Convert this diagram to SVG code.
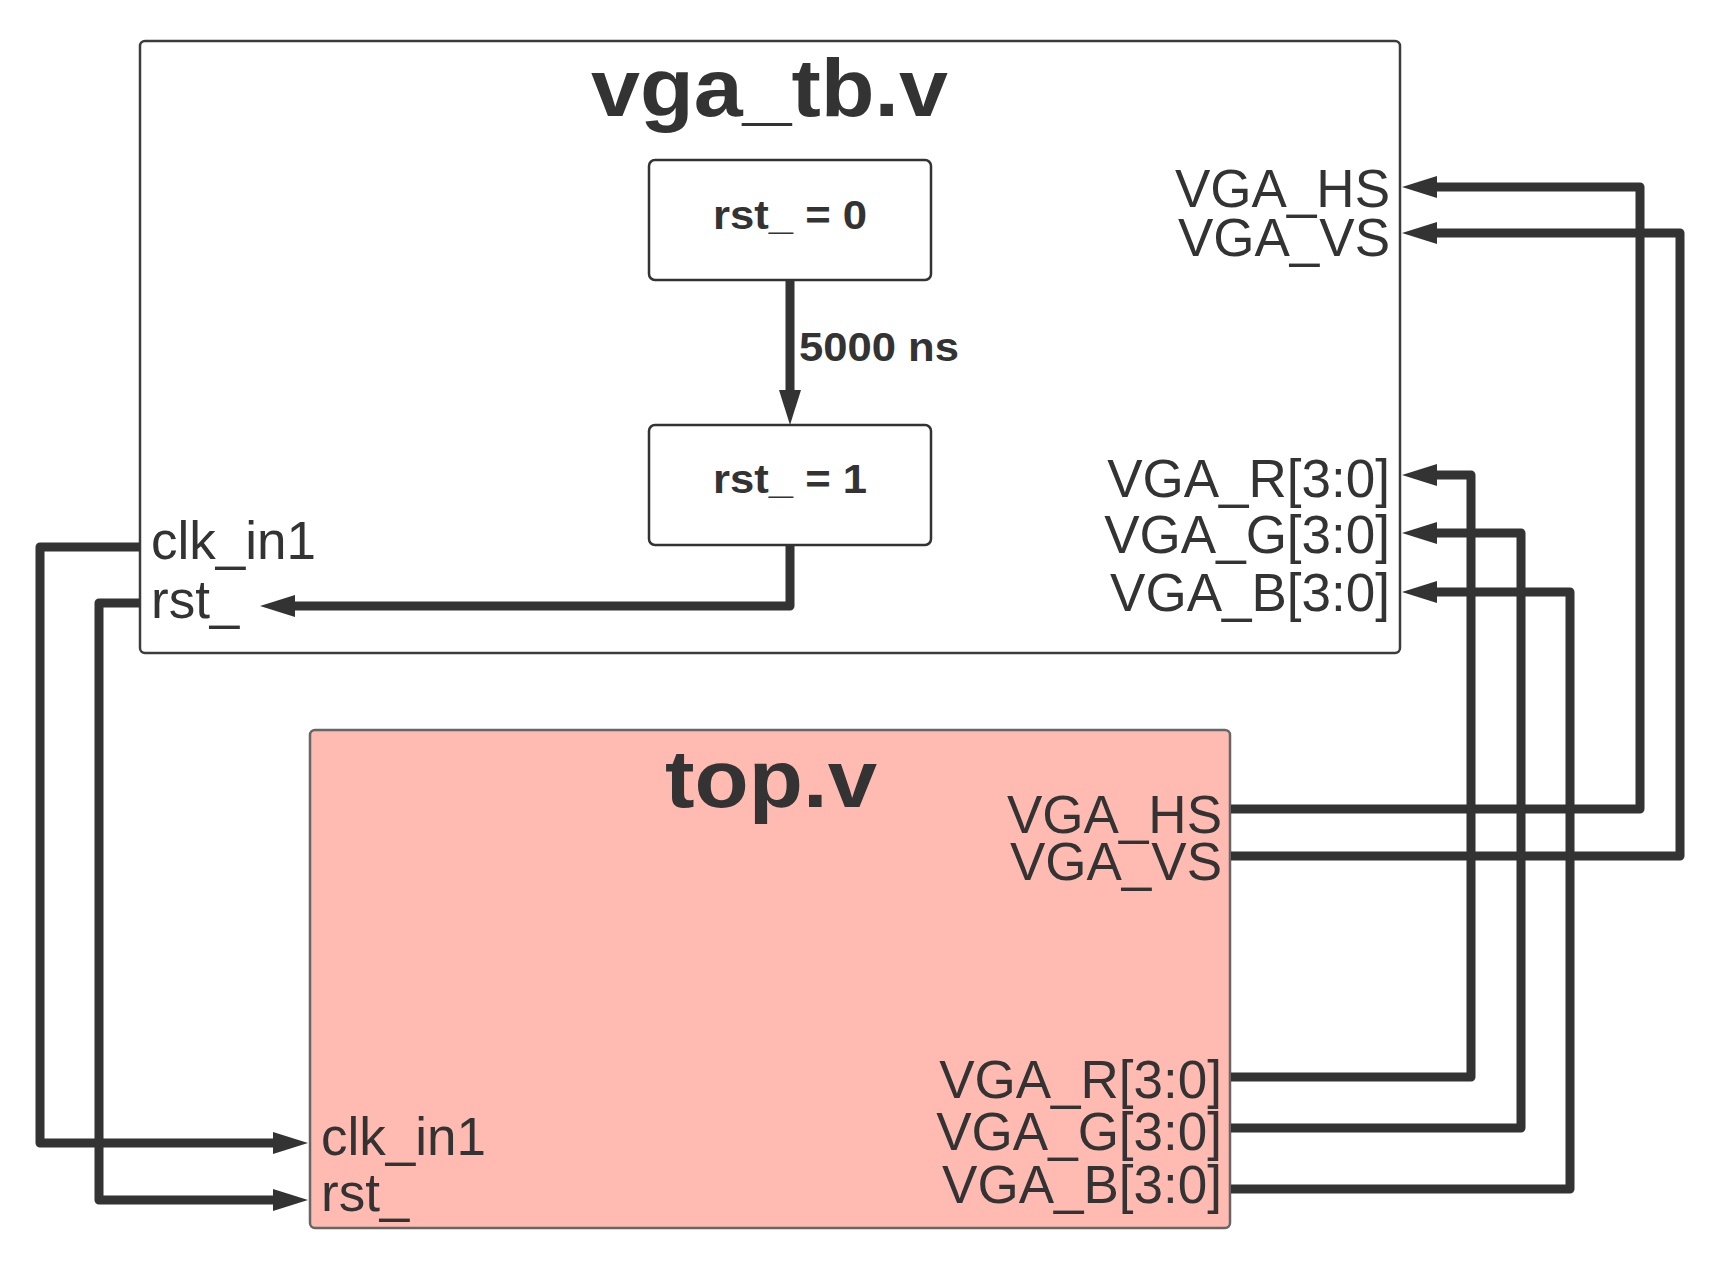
<svg xmlns="http://www.w3.org/2000/svg" width="1720" height="1269" viewBox="0 0 1720 1269">
<defs>
<style>
.t{font-family:"Liberation Sans",Arial,sans-serif;fill:#333333}
.b{font-weight:bold}
.lbl{font-size:53px}
.r{text-anchor:end}
.w{fill:none;stroke:#333333;stroke-width:9;stroke-linejoin:round}
</style>
<marker id="ah" markerUnits="userSpaceOnUse" markerWidth="36" markerHeight="24" refX="0" refY="11" orient="auto" overflow="visible">
<path d="M0,0 L35,11 L0,22 z" fill="#333333"/>
</marker>
</defs>
<rect width="1720" height="1269" fill="#ffffff"/>
<g id="vga_tb">
<rect x="140" y="41" width="1260" height="612" rx="5" fill="#ffffff" stroke="#3c3c3c" stroke-width="2.5"/>
<text class="t b" x="591" y="116" font-size="82" textLength="357" lengthAdjust="spacingAndGlyphs">vga_tb.v</text>
<text class="t lbl" x="151" y="559">clk_in1</text>
<text class="t lbl" x="151" y="618">rst_</text>
<text class="t lbl r" x="1390" y="207">VGA_HS</text>
<text class="t lbl r" x="1390" y="256">VGA_VS</text>
<text class="t lbl r" x="1390" y="497">VGA_R[3:0]</text>
<text class="t lbl r" x="1390" y="553">VGA_G[3:0]</text>
<text class="t lbl r" x="1390" y="611">VGA_B[3:0]</text>
</g>
<g id="rst0">
<rect x="649" y="160" width="282" height="120" rx="6" fill="#ffffff" stroke="#333333" stroke-width="2.5"/>
<text class="t b" x="713" y="229" font-size="40" textLength="154" lengthAdjust="spacingAndGlyphs">rst_ = 0</text>
</g>
<g id="rst1">
<rect x="649" y="425" width="282" height="120" rx="6" fill="#ffffff" stroke="#333333" stroke-width="2.5"/>
<text class="t b" x="713" y="493" font-size="40" textLength="154" lengthAdjust="spacingAndGlyphs">rst_ = 1</text>
</g>
<g id="top">
<rect x="310" y="730" width="920" height="498" rx="5" fill="#FFBBB2" stroke="#666666" stroke-width="2.5"/>
<text class="t b" x="665" y="807" font-size="82" textLength="212" lengthAdjust="spacingAndGlyphs">top.v</text>
<text class="t lbl" x="321" y="1155">clk_in1</text>
<text class="t lbl" x="321" y="1211">rst_</text>
<text class="t lbl r" x="1222" y="833">VGA_HS</text>
<text class="t lbl r" x="1222" y="880">VGA_VS</text>
<text class="t lbl r" x="1222" y="1098">VGA_R[3:0]</text>
<text class="t lbl r" x="1222" y="1150">VGA_G[3:0]</text>
<text class="t lbl r" x="1222" y="1203">VGA_B[3:0]</text>
</g>
<g id="connectors">
<polyline class="w" points="790,281 790,390" marker-end="url(#ah)"/>
<text class="t b" x="799" y="361" font-size="40" textLength="160" lengthAdjust="spacingAndGlyphs">5000 ns</text>
<polyline class="w" points="790,546 790,606 295,606" marker-end="url(#ah)"/>
<polyline class="w" points="140,547 40,547 40,1143 273,1143" marker-end="url(#ah)"/>
<polyline class="w" points="140,603 99,603 99,1200 273,1200" marker-end="url(#ah)"/>
<polyline class="w" points="1231,809 1640,809 1640,187 1437,187" marker-end="url(#ah)"/>
<polyline class="w" points="1231,856 1680,856 1680,233 1437,233" marker-end="url(#ah)"/>
<polyline class="w" points="1231,1077 1471,1077 1471,475 1437,475" marker-end="url(#ah)"/>
<polyline class="w" points="1231,1128 1521,1128 1521,533 1437,533" marker-end="url(#ah)"/>
<polyline class="w" points="1231,1189 1570,1189 1570,592 1437,592" marker-end="url(#ah)"/>
</g>
</svg>
